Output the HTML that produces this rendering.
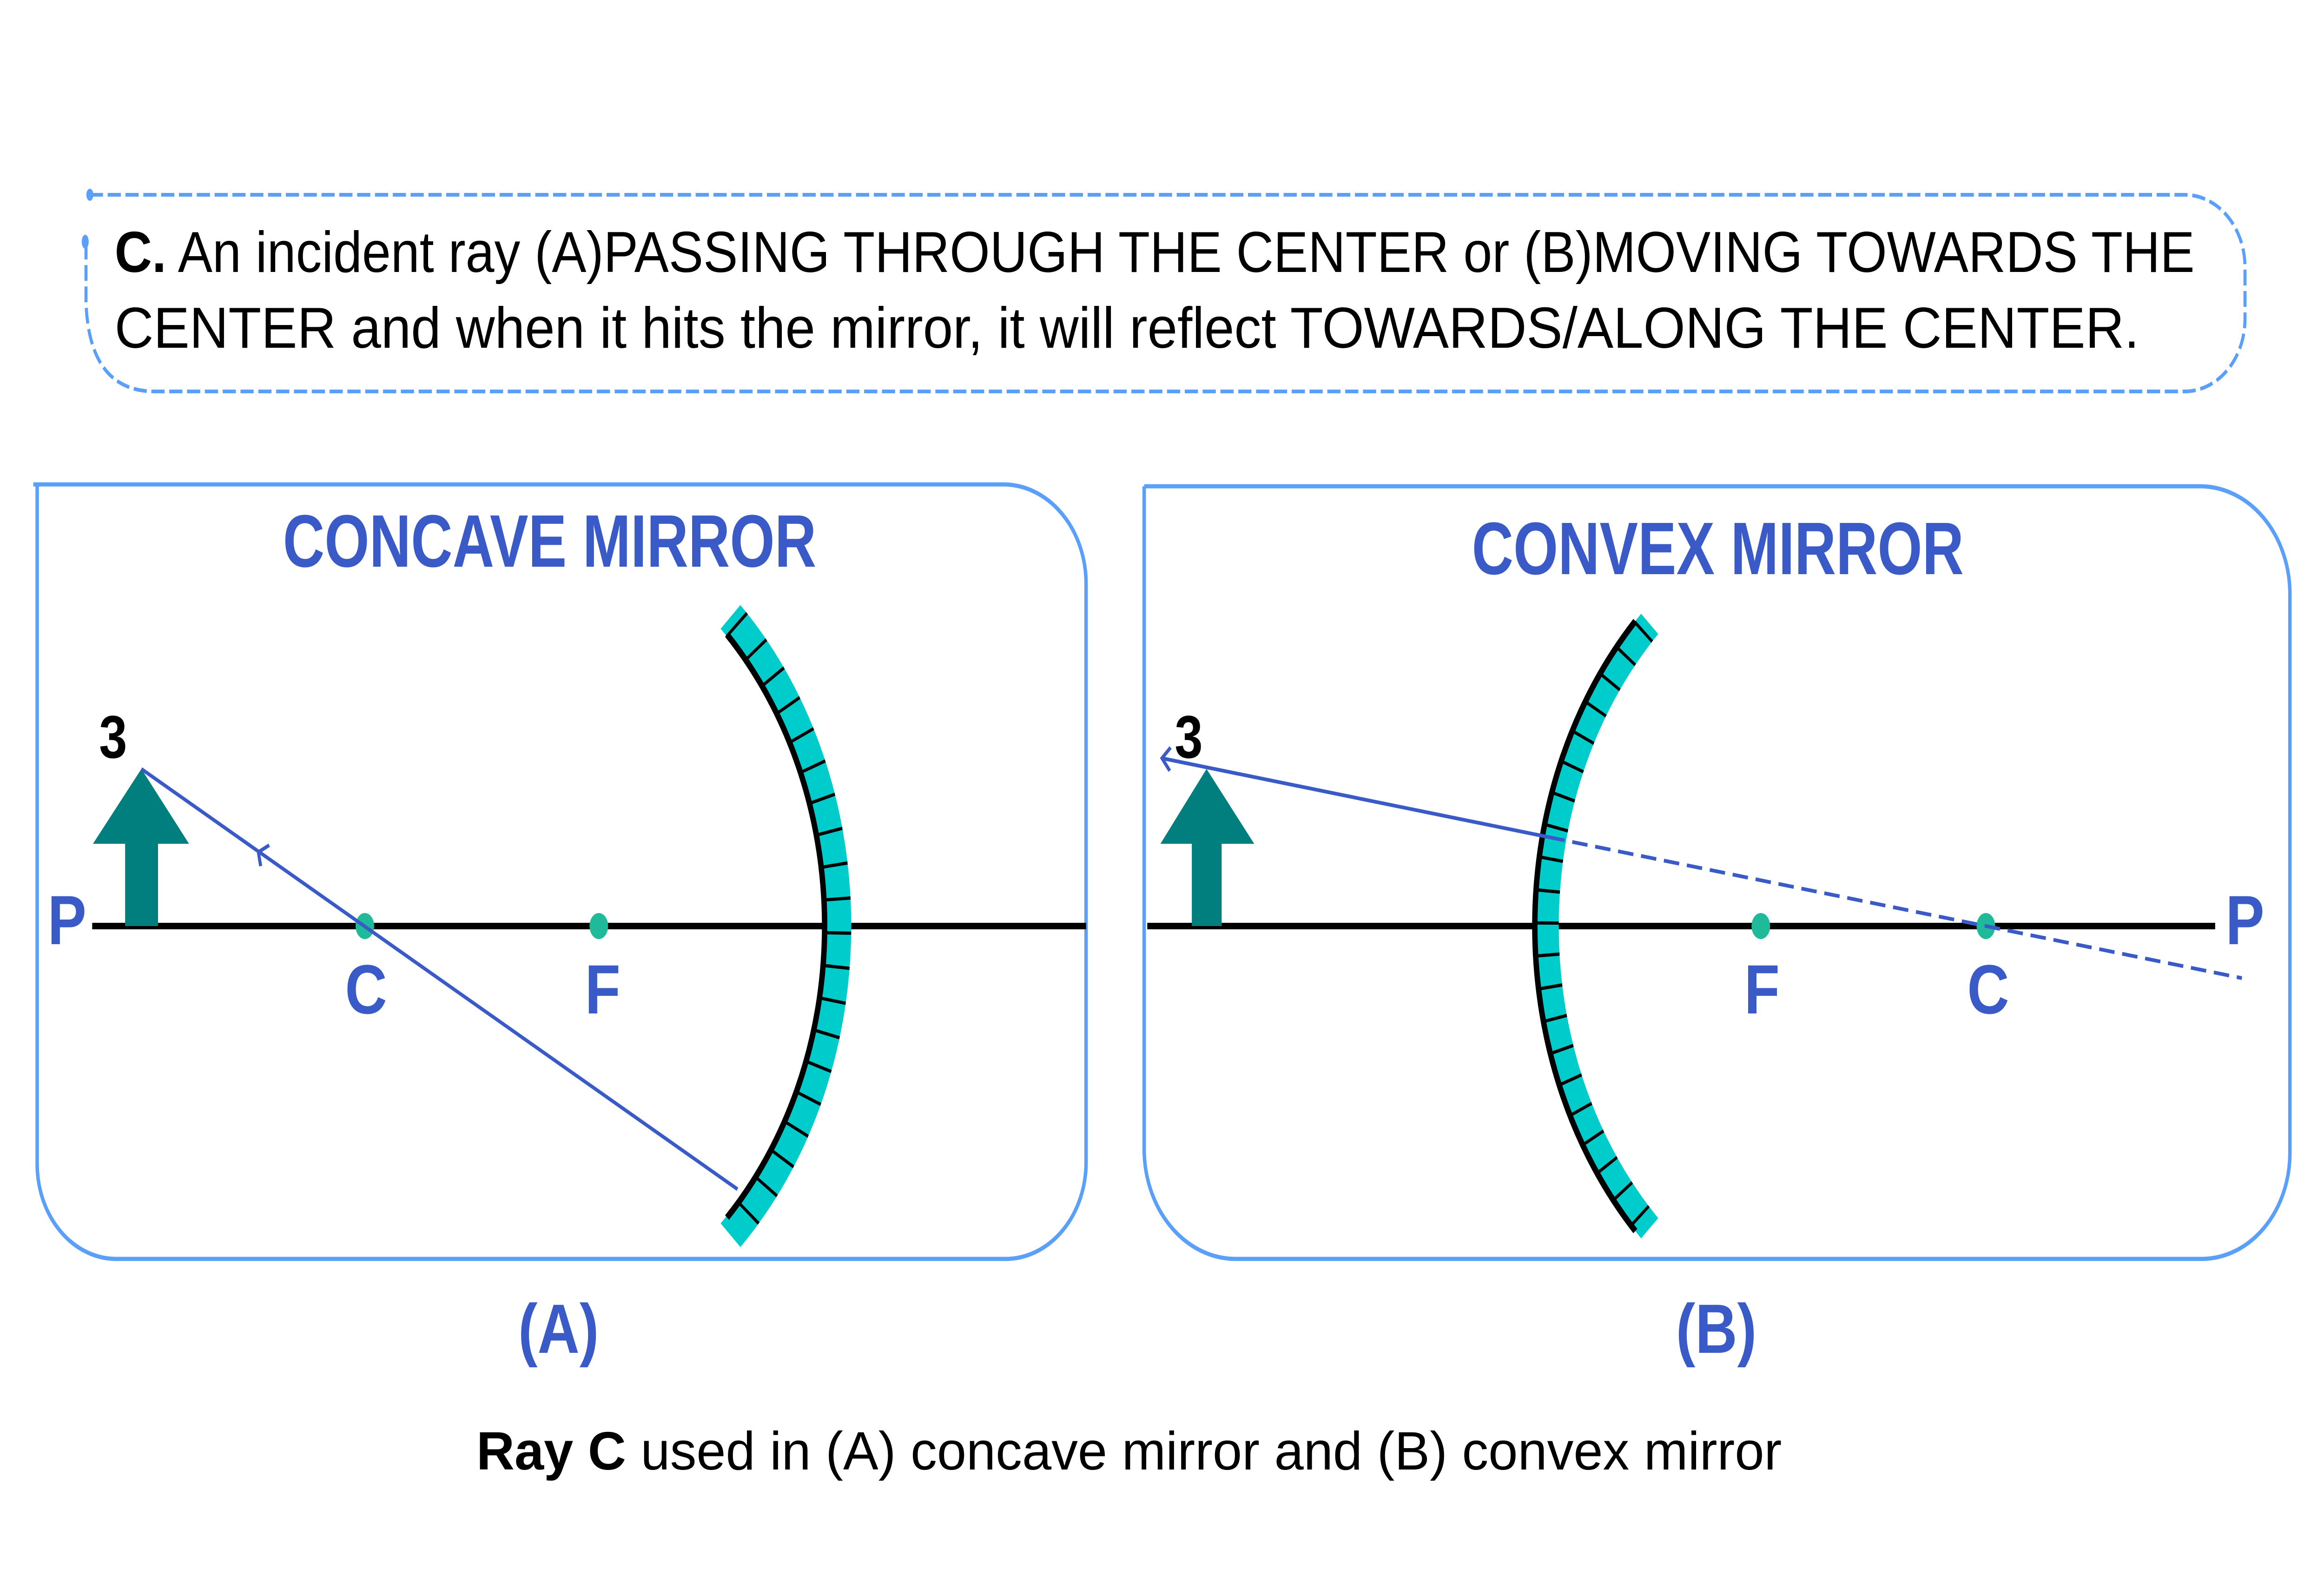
<!DOCTYPE html>
<html><head><meta charset="utf-8"><style>
html,body{margin:0;padding:0;background:#fff;width:100%;height:100%;overflow:hidden;}
svg{display:block;width:100vw;height:100vh;}
text{font-family:"Liberation Sans",sans-serif;}
</style></head><body>
<svg viewBox="0 0 6000 3375" preserveAspectRatio="none" xmlns="http://www.w3.org/2000/svg">
<path d="M232 419 H5640 A156 156 0 0 1 5796 575 V686 A156 156 0 0 1 5640 842 H400 Q230 842 222 650 V520" fill="none" stroke="#5aa0fa" stroke-width="8" stroke-dasharray="34 12"/>
<ellipse cx="232" cy="419" rx="9" ry="13" fill="#5aa0fa"/>
<ellipse cx="220" cy="520" rx="9" ry="15" fill="#5aa0fa"/>
<text x="296" y="585" font-size="124" textLength="5370" lengthAdjust="spacingAndGlyphs"><tspan font-weight="bold">C.</tspan> An incident ray (A)PASSING THROUGH THE CENTER or (B)MOVING TOWARDS THE</text>
<text x="296" y="748" font-size="124" textLength="5227" lengthAdjust="spacingAndGlyphs">CENTER and when it hits the mirror, it will reflect TOWARDS/ALONG THE CENTER.</text>

<path d="M86 1042 H2590 A214 214 0 0 1 2804 1256 V2500 A208 208 0 0 1 2596 2708 H300 A204 204 0 0 1 96 2504 V1042" fill="none" stroke="#5aa0fa" stroke-width="9"/>
<text x="1419" y="1219" font-size="160" font-weight="bold" fill="#3a5bc7" text-anchor="middle" textLength="1377" lengthAdjust="spacingAndGlyphs">CONCAVE MIRROR</text>
<line x1="238" y1="1992" x2="2804" y2="1992" stroke="#000" stroke-width="14"/>
<path d="M1886 1327 A940 940 0 0 1 1886 2657" fill="none" stroke="#00cccc" stroke-width="72"/>
<path d="M1886 1327 A940 940 0 0 1 1886 2657" fill="none" stroke="#000" stroke-width="72" stroke-dasharray="7 66" stroke-dashoffset="-20"/>
<path d="M1877 1365 A906 906 0 0 1 1877 2619" fill="none" stroke="#000" stroke-width="14"/>
<rect x="323" y="1812" width="85" height="180" fill="#017f7f"/>
<polygon points="365,1654 488,1815 240,1815" fill="#017f7f"/>
<text x="292" y="1630" font-size="130" font-weight="bold" text-anchor="middle">3</text>
<text x="173" y="2031" font-size="150" font-weight="bold" fill="#3a5bc7" text-anchor="middle">P</text>
<ellipse cx="942" cy="1992" rx="24" ry="28" fill="#1fba9a"/>
<ellipse cx="1546" cy="1992" rx="24" ry="28" fill="#1fba9a"/>
<text x="945" y="2180" font-size="150" font-weight="bold" fill="#3a5bc7" text-anchor="middle">C</text>
<text x="1556" y="2180" font-size="150" font-weight="bold" fill="#3a5bc7" text-anchor="middle">F</text>
<line x1="365" y1="1654" x2="1904" y2="2558" stroke="#3a5bc7" stroke-width="8"/>
<polyline points="695,1818 667,1833 673,1863" fill="none" stroke="#3a5bc7" stroke-width="8"/>

<path d="M2954 1046 H5680 A232 232 0 0 1 5912 1278 V2480 A228 228 0 0 1 5684 2708 H3190 A236 236 0 0 1 2954 2472 V1046" fill="none" stroke="#5aa0fa" stroke-width="9"/>
<text x="4435" y="1235" font-size="160" font-weight="bold" fill="#3a5bc7" text-anchor="middle" textLength="1270" lengthAdjust="spacingAndGlyphs">CONVEX MIRROR</text>
<line x1="2962" y1="1992" x2="5719" y2="1992" stroke="#000" stroke-width="14"/>
<path d="M4259 1342 A928 928 0 0 0 4259 2642" fill="none" stroke="#00cccc" stroke-width="62"/>
<path d="M4259 1342 A928 928 0 0 0 4259 2642" fill="none" stroke="#000" stroke-width="62" stroke-dasharray="7 62" stroke-dashoffset="-20"/>
<path d="M4222 1336 A959 959 0 0 0 4222 2648" fill="none" stroke="#000" stroke-width="14"/>
<rect x="3077" y="1812" width="77" height="180" fill="#017f7f"/>
<polygon points="3115,1654 3238,1815 2996,1815" fill="#017f7f"/>
<text x="3069" y="1630" font-size="130" font-weight="bold" text-anchor="middle">3</text>
<text x="5796" y="2031" font-size="150" font-weight="bold" fill="#3a5bc7" text-anchor="middle">P</text>
<ellipse cx="4546" cy="1992" rx="24" ry="28" fill="#1fba9a"/>
<ellipse cx="5127" cy="1992" rx="24" ry="28" fill="#1fba9a"/>
<text x="4549" y="2180" font-size="150" font-weight="bold" fill="#3a5bc7" text-anchor="middle">F</text>
<text x="5133" y="2180" font-size="150" font-weight="bold" fill="#3a5bc7" text-anchor="middle">C</text>
<line x1="3000" y1="1631" x2="4000" y2="1801" stroke="#3a5bc7" stroke-width="8"/>
<line x1="4000" y1="1801" x2="5788" y2="2104" stroke="#3a5bc7" stroke-width="8" stroke-dasharray="40 20"/>
<polyline points="3022,1608 3000,1631 3020,1658" fill="none" stroke="#3a5bc7" stroke-width="8"/>

<text x="1442" y="2910" font-size="150" font-weight="bold" fill="#3a5bc7" text-anchor="middle">(A)</text>
<text x="4431" y="2910" font-size="150" font-weight="bold" fill="#3a5bc7" text-anchor="middle">(B)</text>
<text x="2915" y="3161" font-size="116" text-anchor="middle" textLength="3370" lengthAdjust="spacingAndGlyphs"><tspan font-weight="bold">Ray C</tspan> used in (A) concave mirror and (B) convex mirror</text>
</svg>
</body></html>
